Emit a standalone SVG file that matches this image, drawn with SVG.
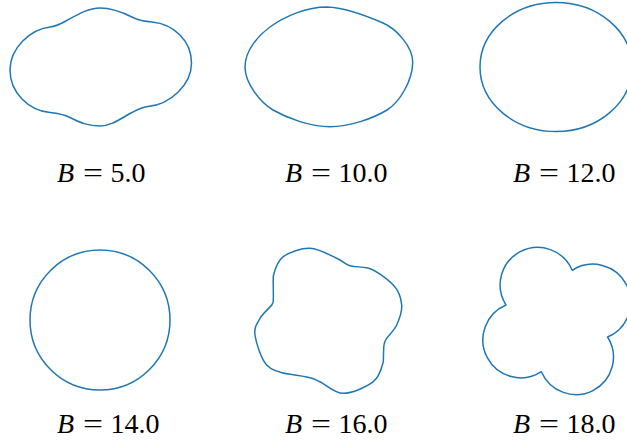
<svg xmlns="http://www.w3.org/2000/svg" width="627" height="441" viewBox="0 0 627 441">
<style>
.c{fill:none;stroke:#1f77b4;stroke-width:1.5;stroke-linejoin:round}
.t{font-family:"Liberation Serif","Times New Roman",serif;font-size:28px;fill:#000}
.it{font-style:italic}
</style>
<rect width="627" height="441" fill="#fff"/>
<g id="panel-b5">
<path class="c" d="M100,8 C112,8 123,12.5 133,17.5 C137,19.5 146,21.6 152,22 C174,24 191.5,41 191.5,63 C191.5,85 170,104.5 148,106.5 C142,107 136,110.5 132,112.5 C122,117.5 112,126 100,126 C88,126 80,122.5 70,117.5 C66,115.5 57,113.2 50,112.5 C28,110.3 10,92 10,70 C10,48 30,29.5 50,27 C55,26.4 62,23.2 66,21 C76,15.5 88,8 100,8 Z"/>
<text class="t it" x="57" y="182">B</text>
<text class="t" x="83" y="182" textLength="20" lengthAdjust="spacingAndGlyphs">=</text>
<text class="t" x="110.5" y="182">5.0</text>
</g>
<g id="panel-b10">
<path class="c" d="M327,7 C345,7.5 368,16.5 383,23 C396.8,29 412.7,47 412.7,62 C412.7,80 400,102 387,110 C374,118 350,126.7 330,126.7 C310,126.7 287,118 273,110 C261,102.5 245,84 245,67 C245,50 259,35 270,27 C285,16 307,7 327,7 Z"/>
<text class="t it" x="285" y="182">B</text>
<text class="t" x="311" y="182" textLength="20" lengthAdjust="spacingAndGlyphs">=</text>
<text class="t" x="338.5" y="182">10.0</text>
</g>
<g id="panel-b12">
<ellipse class="c" cx="556" cy="67" rx="76" ry="64.5"/>
<text class="t it" x="513" y="182">B</text>
<text class="t" x="539" y="182" textLength="20" lengthAdjust="spacingAndGlyphs">=</text>
<text class="t" x="566.5" y="182">12.0</text>
</g>
<g id="panel-b14">
<circle class="c" cx="100" cy="320" r="70"/>
<text class="t it" x="57" y="433">B</text>
<text class="t" x="83" y="433" textLength="20" lengthAdjust="spacingAndGlyphs">=</text>
<text class="t" x="110.5" y="433">14.0</text>
</g>
<g id="panel-b16">
<path class="c" d="M273.3,298.3 C273.57,293.47 273,282.93 273.3,276 C274.97,269.07 277.18,261.32 283.3,256.7 C289.42,252.08 301.1,248.03 310,248.3 C318.9,248.57 330.03,255.4 336.7,258.3 C343.37,261.2 345,264.5 350,265.7 C355,266.9 359.7,266.7 366.7,267.7 C373.7,268.7 387.47,278.78 393.3,285 C399.13,291.22 401.13,298.33 401.7,305 C402.27,311.67 399.2,319.45 396.7,325 C394.2,330.55 388.82,334.97 386.7,338.3 C384.58,341.63 384.57,341.1 384,345 C383.43,348.9 383.6,355.58 383.3,361.7 C381.52,367.82 380,376.43 373.3,381.7 C366.63,386.97 352.18,393.3 343.3,393.3 C334.42,393.3 325.55,384.3 320,381.7 C314.45,379.1 315,378.9 310,377.7 C305,376.5 297,375.3 290,374.3 C283,373.3 272.53,371.55 266.7,365 C260.87,358.45 256.12,342.78 255,335 C253.88,327.22 257.22,323.3 260,318.3 C262.78,313.3 269.48,308.33 271.7,305 C273.92,301.67 273.03,303.13 273.3,298.3 Z"/>
<text class="t it" x="285" y="433">B</text>
<text class="t" x="311" y="433" textLength="20" lengthAdjust="spacingAndGlyphs">=</text>
<text class="t" x="338.5" y="433">16.0</text>
</g>
<g id="panel-b18">
<path class="c" d="M506,305 A37.5,37.5 0 1 1 572.2,270.3 A37.9,37.9 0 1 1 607.6,337 A37.5,37.5 0 1 1 541.4,371.7 A37.9,37.9 0 1 1 506,305 Z"/>
<text class="t it" x="513" y="433">B</text>
<text class="t" x="539" y="433" textLength="20" lengthAdjust="spacingAndGlyphs">=</text>
<text class="t" x="566.5" y="433">18.0</text>
</g>
</svg>
